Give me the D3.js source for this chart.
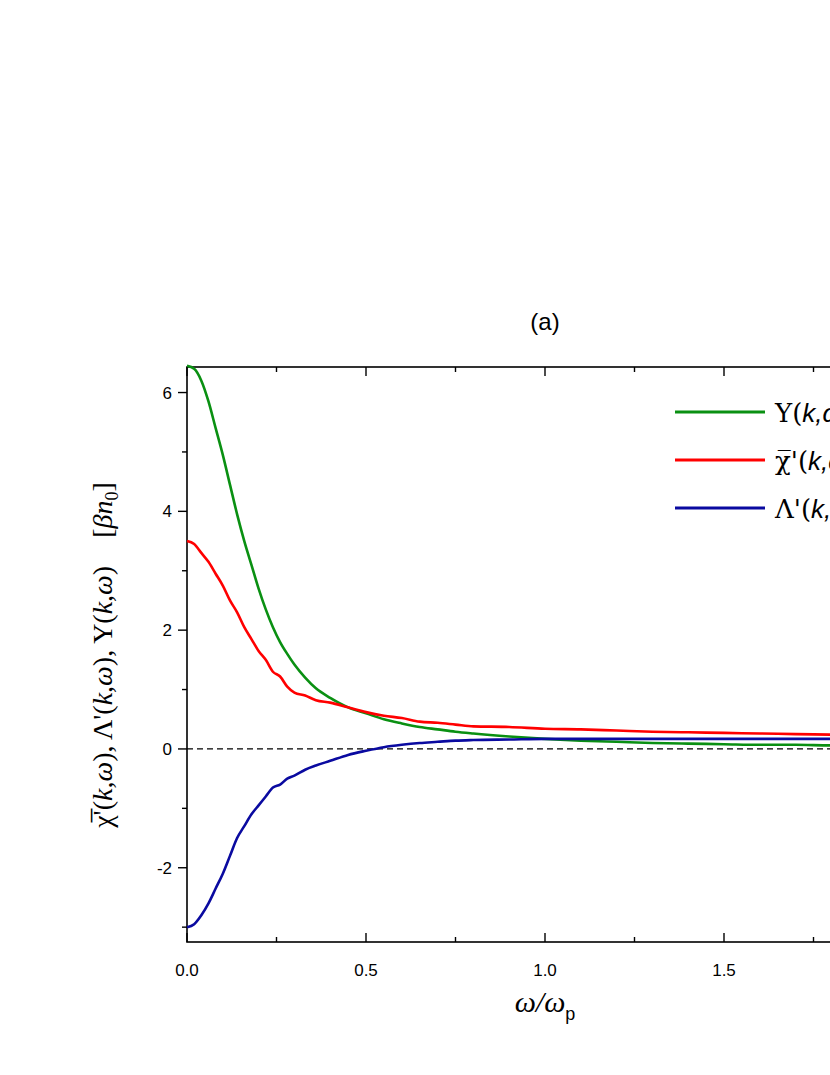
<!DOCTYPE html>
<html><head><meta charset="utf-8">
<script src="https://cdn.jsdelivr.net/npm/d3@7"></script>
<style>body{margin:0;background:#fff;overflow:hidden}</style>
</head><body>
<div id="chart"></div>
<script>
// omega / omega_p
const omega = [0,0.02,0.04,0.06,0.08,0.1,0.12,0.14,0.16,0.18,0.2,0.22,0.24,0.26,0.28,0.3,0.33,0.36,0.4,0.45,0.5,0.55,0.6,0.65,0.7,0.75,0.8,0.9,1.0,1.1,1.2,1.3,1.4,1.5,1.6,1.7,1.8,1.9,2.0];
const upsilon = [6.45,6.4,6.2,5.85,5.4,4.95,4.45,3.95,3.5,3.1,2.7,2.35,2.05,1.8,1.6,1.42,1.2,1.02,0.86,0.7,0.6,0.5,0.43,0.37,0.33,0.29,0.26,0.21,0.17,0.14,0.12,0.1,0.09,0.08,0.07,0.07,0.06,0.06,0.05];
const chiBar = [3.5,3.45,3.3,3.15,2.95,2.75,2.5,2.3,2.05,1.85,1.65,1.5,1.3,1.22,1.05,0.95,0.9,0.82,0.78,0.7,0.62,0.56,0.52,0.46,0.44,0.41,0.38,0.37,0.34,0.33,0.31,0.29,0.28,0.27,0.26,0.25,0.24,0.23,0.23];
const lambdaP = [-3.0,-2.95,-2.8,-2.6,-2.35,-2.1,-1.8,-1.5,-1.3,-1.1,-0.95,-0.8,-0.65,-0.6,-0.5,-0.45,-0.35,-0.28,-0.2,-0.1,-0.03,0.03,0.07,0.1,0.12,0.14,0.15,0.16,0.17,0.17,0.17,0.17,0.17,0.17,0.17,0.17,0.17,0.17,0.17];
const xTicks = [0,0.5,1.0,1.5,2.0];
const yTicks = [-2,0,2,4,6];
const series = [
  {name:"Υ(", vals:upsilon, color:"#0a9012"},
  {name:"χ̅'(", vals:chiBar, color:"#ff0000"},
  {name:"Λ'(", vals:lambdaP, color:"#0a0aa0"}
];

const width = 830, height = 1075;
const svg = d3.select("#chart").append("svg").attr("width", width).attr("height", height)
  .style("font-family", "Arial, 'Liberation Sans', sans-serif");

const x = d3.scaleLinear().domain([0, 2]).range([187, 903]);
const y = d3.scaleLinear().domain([-3.25, 6.43]).range([942, 367]);

const g = svg.append("g");
g.append("rect").attr("x", 187).attr("y", 367).attr("width", 716).attr("height", 575)
  .attr("fill", "none").attr("stroke", "#000").attr("stroke-width", 1.6);

// dashed zero line
g.append("line").attr("x1", x(0)).attr("x2", x(2)).attr("y1", y(0)).attr("y2", y(0))
  .attr("stroke", "#000").attr("stroke-width", 1.3).attr("stroke-dasharray", "6,4");

d3.range(0, 2.01, 0.25).forEach(v => {
  const major = Math.abs(v * 2 - Math.round(v * 2)) < 1e-6;
  const len = major ? 9 : 5;
  g.append("line").attr("x1", x(v)).attr("x2", x(v)).attr("y1", 942).attr("y2", 942 - len).attr("stroke", "#000").attr("stroke-width", 1.4);
  g.append("line").attr("x1", x(v)).attr("x2", x(v)).attr("y1", 367).attr("y2", 367 + len).attr("stroke", "#000").attr("stroke-width", 1.4);
});
d3.range(-3, 6.1, 1).forEach(v => {
  const len = v % 2 === 0 ? 9 : 5;
  g.append("line").attr("x1", 187).attr("x2", 187 - len).attr("y1", y(v)).attr("y2", y(v)).attr("stroke", "#000").attr("stroke-width", 1.4);
});
xTicks.forEach(v => g.append("text").attr("x", x(v)).attr("y", 976).attr("text-anchor", "middle")
  .style("font-size", "17px").text(v.toFixed(1)));
yTicks.forEach(v => g.append("text").attr("x", 172).attr("y", y(v) + 6).attr("text-anchor", "end")
  .style("font-size", "17px").text(v));

const line = d3.line().x((d, i) => x(omega[i])).y(d => y(d)).curve(d3.curveMonotoneX);
series.forEach(s => g.append("path").attr("d", line(s.vals)).attr("fill", "none")
  .attr("stroke", s.color).attr("stroke-width", 2.6));

// legend
series.forEach((s, i) => {
  const ly = 412 + i * 48;
  g.append("line").attr("x1", 675).attr("x2", 765).attr("y1", ly).attr("y2", ly).attr("stroke", s.color).attr("stroke-width", 3);
  const t = g.append("text").attr("x", 775).attr("y", ly + 10).style("font-size", "26px").style("font-family", "'DejaVu Serif', serif");
  t.append("tspan").text(s.name);
  t.append("tspan").style("font-style", "italic").style("font-family", "Arial, sans-serif").text("k,ω)");
});

svg.append("text").attr("x", 545).attr("y", 330).attr("text-anchor", "middle").style("font-size", "24px").text("(a)");

const xl = svg.append("text").attr("x", 545).attr("y", 1012).attr("text-anchor", "middle").style("font-size", "30px")
  .style("font-family", "'Liberation Serif', serif").style("font-style", "italic");
xl.append("tspan").text("ω/ω");
xl.append("tspan").style("font-size", "18px").style("font-style", "normal").style("font-family", "Arial").attr("dy", 8).text("p");

const yl = svg.append("text").attr("transform", "translate(112,655) rotate(-90)").attr("text-anchor", "middle")
  .style("font-size", "28px").style("font-family", "'Liberation Serif', serif").style("white-space", "pre");
yl.append("tspan").text("χ̅'(");
yl.append("tspan").style("font-style", "italic").text("k,ω");
yl.append("tspan").text("), Λ'(");
yl.append("tspan").style("font-style", "italic").text("k,ω");
yl.append("tspan").text("), Υ(");
yl.append("tspan").style("font-style", "italic").text("k,ω");
yl.append("tspan").text(")\u00a0\u00a0\u00a0\u00a0[");
yl.append("tspan").style("font-style", "italic").text("βn");
yl.append("tspan").style("font-size", "18px").attr("dy", 6).text("0");
yl.append("tspan").attr("dy", -6).text("]");
</script>
</body></html>
